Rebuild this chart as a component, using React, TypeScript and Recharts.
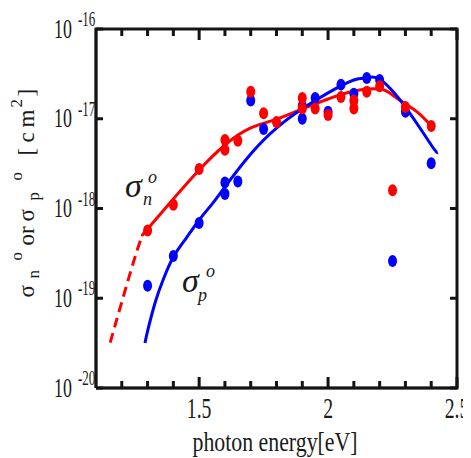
import React from 'react';
import { ComposedChart, Line, Scatter, XAxis, YAxis, Customized } from 'recharts';

// measured points (photon energy [eV], cross-section [cm^2])
const redPointE = [1.3, 1.4, 1.5, 1.6, 1.6, 1.65, 1.7, 1.75, 1.8, 1.9, 1.9, 1.95, 2.0, 2.05, 2.1, 2.1, 2.15, 2.2, 2.25, 2.3, 2.4];
const redPointV = [5.7e-19, 1.1e-18, 2.75e-18, 5.8e-18, 4.5e-18, 5.7e-18, 2.0e-17, 1.15e-17, 9.2e-18, 1.7e-17, 1.3e-17, 1.3e-17, 1.1e-17, 1.75e-17, 1.6e-17, 1.3e-17, 2.0e-17, 2.3e-17, 1.6e-18, 1.35e-17, 8.3e-18];

const bluePointE = [1.3, 1.4, 1.5, 1.6, 1.6, 1.65, 1.7, 1.75, 1.9, 1.9, 1.95, 2.0, 2.05, 2.1, 2.15, 2.2, 2.25, 2.3, 2.4];
const bluePointV = [1.38e-19, 2.95e-19, 6.9e-19, 1.95e-18, 1.45e-18, 2.0e-18, 1.6e-17, 7.7e-18, 1.0e-17, 1.4e-17, 1.7e-17, 1.2e-17, 2.4e-17, 1.9e-17, 2.85e-17, 2.7e-17, 2.6e-19, 1.2e-17, 3.2e-18];

// fitted curves
const redFitE = [1.28, 1.3, 1.4, 1.5, 1.6, 1.7, 1.8, 1.9, 2.0, 2.1, 2.2, 2.25, 2.3, 2.35, 2.4];
const redFitV = [5.07e-19, 5.92e-19, 1.28e-18, 2.69e-18, 5.1e-18, 7.9e-18, 9.9e-18, 1.29e-17, 1.66e-17, 2.04e-17, 2.14e-17, 1.84e-17, 1.46e-17, 1.16e-17, 8.3e-18];
const redExtrapE = [1.155, 1.2, 1.25, 1.28];
const redExtrapV = [3.2e-20, 9.1e-20, 2.8e-19, 5.07e-19];
const blueFitE = [1.29, 1.3, 1.33, 1.36, 1.4, 1.45, 1.5, 1.55, 1.6, 1.7, 1.8, 1.9, 2.0, 2.1, 2.15, 2.2, 2.3, 2.4, 2.426];
const blueFitV = [3.17e-20, 4.31e-20, 9.08e-20, 1.6e-19, 2.88e-19, 4.69e-19, 7.45e-19, 1.12e-18, 1.74e-18, 4.05e-18, 7.88e-18, 1.29e-17, 1.94e-17, 2.7e-17, 2.85e-17, 2.75e-17, 1.35e-17, 5.1e-18, 4.2e-18];

const xTicks = [1.2, 1.3, 1.4, 1.5, 1.6, 1.7, 1.8, 1.9, 2.0, 2.1, 2.2, 2.3, 2.4, 2.5];
const xMajorTicks = [1.5, 2.0, 2.5];
const yTicks = [1e-20, 1e-19, 1e-18, 1e-17, 1e-16];
const X_MIN = 1.1;
const X_MAX = 2.5;
const Y_MIN = 1e-20;
const Y_MAX = 1e-16;

const RED = '#ff0000';
const BLUE = '#0000ff';
const INK = '#1a1a1a';
const FRAME = '#141414';
const FONT = '"Liberation Serif", "Times New Roman", serif';

// layout
const CHART_W = 463;
const CHART_H = 450;
const MARGIN = { top: 21, right: 14, bottom: 0, left: 0 };
const Y_AXIS_W = 88;
const X_AXIS_H = 70;
const PLOT_W = CHART_W - MARGIN.left - MARGIN.right - Y_AXIS_W;
const PLOT_H = CHART_H - MARGIN.top - MARGIN.bottom - X_AXIS_H;
const PX_PER_DECADE = PLOT_H / (Math.log10(Y_MAX) - Math.log10(Y_MIN));
const PX_PER_EV = PLOT_W / (X_MAX - X_MIN);
const FRAME_W = 2.6;
const TICK_W = 2.2;
const MAJOR_LEN = 11;
const MINOR_LEN = 7;
const Y_TICK_LEN = 7;

const zip = (e: number[], v: number[]) => e.map((x, i) => ({ e: x, v: v[i] }));
const redPoints = zip(redPointE, redPointV);
const bluePoints = zip(bluePointE, bluePointV);
const redFit = zip(redFitE, redFitV);
const redExtrap = zip(redExtrapE, redExtrapV);
const blueFit = zip(blueFitE, blueFitV);

const isMajor = (v: number) => xMajorTicks.some((m) => Math.abs(m - v) < 1e-6);
const fmtX = (v: number) => String(Math.round(v * 10) / 10);

// frame box and inward tick marks, built from the domain and axis ticks, drawn through the chart scales
const frameBox = [
  { e: X_MIN, v: Y_MIN },
  { e: X_MIN, v: Y_MAX },
  { e: X_MAX, v: Y_MAX },
  { e: X_MAX, v: Y_MIN },
  { e: X_MIN, v: Y_MIN },
];
const tickMarks: { e: number; v: number | null }[] = [];
xTicks.forEach((t) => {
  const f = Math.pow(10, (isMajor(t) ? MAJOR_LEN : MINOR_LEN) / PX_PER_DECADE);
  tickMarks.push({ e: t, v: Y_MIN }, { e: t, v: Y_MIN * f }, { e: t, v: null });
  tickMarks.push({ e: t, v: Y_MAX }, { e: t, v: Y_MAX / f }, { e: t, v: null });
});
yTicks.forEach((t) => {
  const d = Y_TICK_LEN / PX_PER_EV;
  tickMarks.push({ e: X_MIN, v: t }, { e: X_MIN + d, v: t }, { e: X_MIN, v: null });
  tickMarks.push({ e: X_MAX, v: t }, { e: X_MAX - d, v: t }, { e: X_MAX, v: null });
});

const BottomTick = (props: any) => {
  const { x, y, payload } = props;
  if (!isMajor(payload.value)) return <g />;
  return (
    <text transform={`translate(${x},${y + 30}) scale(0.68,1)`} textAnchor="middle" fontSize={29} fontFamily={FONT} fill={INK}>
      {fmtX(payload.value)}
    </text>
  );
};

const LeftTick = (props: any) => {
  const { x, y, payload } = props;
  const exp = Math.round(Math.log10(payload.value));
  return (
    <g>
      <text transform={`translate(${x - 24},${y + 8.5}) scale(0.64,1)`} textAnchor="end" fontSize={28} fontFamily={FONT} fill={INK}>
        10
      </text>
      <text transform={`translate(${x - 18},${y - 3}) scale(0.62,1)`} textAnchor="start" fontSize={21} fontFamily={FONT} fill={INK}>
        {String(exp)}
      </text>
    </g>
  );
};

const Dot = (color: string) => (props: any) => {
  const { cx, cy } = props;
  if (cx == null || cy == null) return <g />;
  return <ellipse cx={cx} cy={cy} rx={4.5} ry={6} fill={color} />;
};

const Annotations = () => (
  <g fontFamily={FONT} fill={INK}>
    {/* x-axis title */}
    <text transform="translate(267,443) scale(0.78,1)" textAnchor="middle" fontSize={28}>
      photon energy[eV]
    </text>
    {/* y-axis title */}
    <g transform="translate(26,185.5) rotate(-90)">
      <text x={-104} y={0} fontSize={23}>σ</text>
      <text x={-85} y={5} fontSize={17}>n</text>
      <text x={-67} y={-12} fontSize={17}>o</text>
      <text x={-52} y={0} fontSize={23}>or</text>
      <text x={-28} y={0} fontSize={23}>σ</text>
      <text x={-7} y={5} fontSize={17}>p</text>
      <text x={13} y={-12} fontSize={17}>o</text>
      <text x={38} y={0} fontSize={23}>[</text>
      <text x={51} y={0} fontSize={23}>c</text>
      <text x={66} y={0} fontSize={23}>m</text>
      <text x={86} y={-12} fontSize={17}>2</text>
      <text x={97} y={0} fontSize={23}>]</text>
    </g>
    {/* series labels */}
    <text x={117} y={189} fontSize={34} fontStyle="italic">σ</text>
    <text x={135} y={197} fontSize={18} fontStyle="italic">n</text>
    <text x={140} y={175} fontSize={18} fontStyle="italic">o</text>
    <text x={174} y={284} fontSize={34} fontStyle="italic">σ</text>
    <text x={190} y={293} fontSize={18} fontStyle="italic">p</text>
    <text x={198} y={269} fontSize={18} fontStyle="italic">o</text>
  </g>
);

export default function App() {
  return (
    <ComposedChart width={CHART_W} height={CHART_H} margin={MARGIN} style={{ fontFamily: FONT }}>
      <XAxis
        dataKey="e"
        type="number"
        domain={[X_MIN, X_MAX]}
        ticks={xTicks}
        interval={0}
        height={X_AXIS_H}
        tickSize={0}
        tickMargin={0}
        tickLine={false}
        axisLine={{ stroke: FRAME, strokeWidth: FRAME_W }}
        tick={<BottomTick />}
      />
      <YAxis
        dataKey="v"
        type="number"
        scale="log"
        domain={[Y_MIN, Y_MAX]}
        ticks={yTicks}
        interval={0}
        width={Y_AXIS_W}
        tickSize={0}
        tickMargin={0}
        tickLine={false}
        axisLine={{ stroke: FRAME, strokeWidth: FRAME_W }}
        tick={<LeftTick />}
      />
      <Line data={redExtrap} dataKey="v" type="natural" stroke={RED} strokeWidth={3} strokeDasharray="10 6" dot={false} activeDot={false} isAnimationActive={false} />
      <Line data={redFit} dataKey="v" type="natural" stroke={RED} strokeWidth={3} dot={false} activeDot={false} isAnimationActive={false} />
      <Line data={blueFit} dataKey="v" type="natural" stroke={BLUE} strokeWidth={3} dot={false} activeDot={false} isAnimationActive={false} />
      <Line data={frameBox} dataKey="v" type="linear" stroke={FRAME} strokeWidth={3} dot={false} activeDot={false} isAnimationActive={false} />
      <Line data={tickMarks} dataKey="v" type="linear" stroke={FRAME} strokeWidth={3} dot={false} activeDot={false} isAnimationActive={false} />
      <Scatter data={bluePoints} dataKey="v" fill={BLUE} shape={Dot(BLUE)} isAnimationActive={false} />
      <Scatter data={redPoints} dataKey="v" fill={RED} shape={Dot(RED)} isAnimationActive={false} />
      <Customized component={Annotations} />
    </ComposedChart>
  );
}
